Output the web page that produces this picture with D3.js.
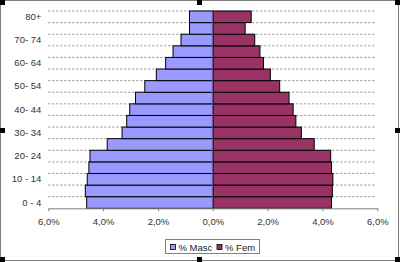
<!DOCTYPE html>
<html>
<head>
<meta charset="utf-8">
<script src="https://cdn.jsdelivr.net/npm/d3@7"></script>
<style>
    body { margin: 0; background: #fff; }
    svg { display: block; font-family: "Liberation Sans", Arial, sans-serif; }
</style>
</head>
<body>
<div class="chart"></div>
<script>
// age groups, bottom to top
const ageGroups = ["0 - 4", "5 - 9", "10 - 14", "15 - 19", "20- 24", "25- 29", "30- 34", "35- 39",
    "40- 44", "45- 49", "50- 54", "55- 59", "60- 64", "65- 69", "70- 74", "75- 79", "80+"];
const shownAgeLabels = ["0 - 4", "10 - 14", "20- 24", "30- 34", "40- 44", "50- 54", "60- 64", "70- 74", "80+"];
const maleValues = [4.60, 4.65, 4.58, 4.52, 4.48, 3.85, 3.31, 3.14, 3.03, 2.82, 2.48, 2.06, 1.72, 1.45, 1.16, 0.85, 0.85];
const femaleValues = [4.33, 4.36, 4.38, 4.33, 4.30, 3.70, 3.23, 3.03, 2.93, 2.78, 2.44, 2.10, 1.85, 1.72, 1.53, 1.18, 1.40];
const xTicks = [-6, -4, -2, 0, 2, 4, 6];
const seriesNames = ["% Masc", "% Fem"];

const svgW = 400;
const svgH = 262;
const plot = {left: 48.3, right: 377.3, top: 11, bottom: 208.3};
const maleColor = "#9999ff";
const femaleColor = "#993366";

const commaFmt = d3.formatLocale({decimal: ",", thousands: ".", grouping: [3], currency: ["", ""]}).format(".1f");

let x = d3.scaleLinear()
    .domain([-6, 6])
    .range([plot.left, plot.right]);
let y = d3.scaleBand()
    .domain(ageGroups)
    .range([plot.bottom, plot.top])
    .padding(0);

const svg = d3.select("div.chart")
    .append("svg")
        .attr("width", svgW)
        .attr("height", svgH);

// chart area border
svg.append("rect")
    .attr("x", 0.5).attr("y", 0.5)
    .attr("width", 398).attr("height", 260)
    .attr("fill", "#fff")
    .attr("stroke", "#808080");

// dashed gridlines at band edges
svg.append("g")
    .selectAll("line")
    .data(ageGroups)
    .join("line")
    .attr("x1", x(-6))
    .attr("x2", x(6) - 2)
    .attr("y1", d => y(d))
    .attr("y2", d => y(d))
    .attr("stroke", "#8c8c8c")
    .attr("stroke-dasharray", "2,2");

svg.append("g")
    .selectAll("rect")
    .data(femaleValues)
    .join("rect")
    .attr("x", x(0))
    .attr("y", (d, i) => y(ageGroups[i]))
    .attr("width", d => x(d) - x(0))
    .attr("height", y.bandwidth())
    .attr("fill", femaleColor)
    .attr("stroke", "#000");

svg.append("g")
    .selectAll("rect")
    .data(maleValues)
    .join("rect")
    .attr("x", d => x(-d))
    .attr("y", (d, i) => y(ageGroups[i]))
    .attr("width", d => x(0) - x(-d))
    .attr("height", y.bandwidth())
    .attr("fill", maleColor)
    .attr("stroke", "#000");

// value axis line at 0
svg.append("line")
    .attr("x1", x(0) - 0.5).attr("x2", x(0) - 0.5)
    .attr("y1", plot.top).attr("y2", plot.bottom)
    .attr("stroke", "#6a6ab0");

let xAxis = svg.append("g")
    .attr("transform", `translate(0,${plot.bottom})`)
    .call(d3.axisBottom(x)
        .tickValues(xTicks)
        .tickSize(3)
        .tickSizeOuter(0)
        .tickPadding(7)
        .tickFormat(d => commaFmt(Math.abs(d)) + "%"));
xAxis.attr("font-family", null).attr("font-size", null);
xAxis.select(".domain").attr("stroke", "#808080");
xAxis.selectAll(".tick line").attr("stroke", "#808080");
xAxis.selectAll(".tick text").attr("fill", "#333").style("font-size", "9.5px");

let yAxis = svg.append("g")
    .attr("transform", `translate(${plot.left},0)`)
    .call(d3.axisLeft(y)
        .tickValues(shownAgeLabels)
        .tickSize(0)
        .tickPadding(7));
yAxis.attr("font-family", null).attr("font-size", null);
yAxis.select(".domain").remove();
yAxis.selectAll(".tick text").attr("fill", "#333").style("font-size", "9.5px");

// legend
let legend = svg.append("g");
legend.append("rect")
    .attr("x", 165.5).attr("y", 239.5)
    .attr("width", 94).attr("height", 14)
    .attr("fill", "#fff")
    .attr("stroke", "#808080");
let legendX = [170, 216.5];
seriesNames.forEach((name, i) => {
    legend.append("rect")
        .attr("x", legendX[i] + 0.5).attr("y", 244.5)
        .attr("width", 5).attr("height", 5)
        .attr("fill", i === 0 ? maleColor : femaleColor)
        .attr("stroke", "#000")
        .attr("stroke-width", 0.8);
    legend.append("text")
        .attr("x", legendX[i] + 8.5)
        .attr("y", 250.5)
        .attr("fill", "#222")
        .style("font-size", "9.5px")
        .text(name);
});

// selection handles
let handles = [[0, 0], [197, 0], [395, 0], [0, 128], [395, 128], [0, 257], [197, 257], [395, 257]];
svg.append("g")
    .selectAll("rect")
    .data(handles)
    .join("rect")
    .attr("x", d => d[0]).attr("y", d => d[1])
    .attr("width", 5).attr("height", 5)
    .attr("fill", "#000");
</script>
</body>
</html>
